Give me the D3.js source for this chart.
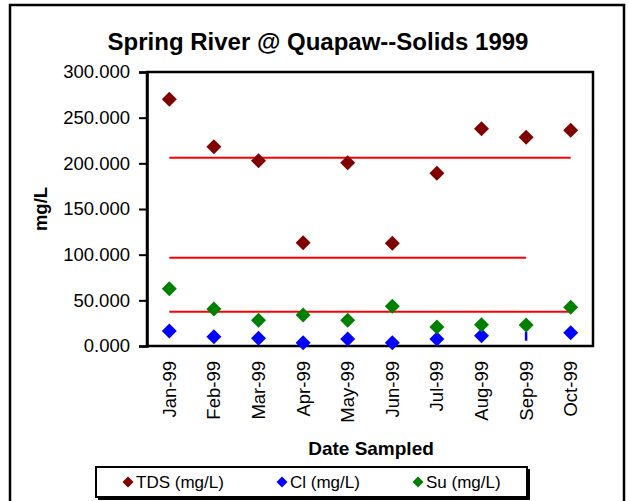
<!DOCTYPE html>
<html><head><meta charset="utf-8">
<script src="https://cdn.jsdelivr.net/npm/d3@7"></script>
<style>body{margin:0;background:#fff}svg{display:block}text{font-family:"Liberation Sans",Arial,sans-serif}</style>
</head><body><svg id="c" width="629" height="501"></svg>
<script>
const months = ["Jan-99","Feb-99","Mar-99","Apr-99","May-99","Jun-99","Jul-99","Aug-99","Sep-99","Oct-99"];
const tds = [270.1, 218.2, 202.9, 113.1, 200.7, 112.4, 189.1, 237.9, 228.5, 236.2];
const cl  = [16.4, 10.2, 8.4, 3.6, 7.7, 3.6, 7.7, 11.3, null, 14.6];
const su  = [62.8, 40.5, 28.1, 33.9, 28.1, 43.5, 20.8, 23.4, 23.0, 42.3];
const clStub = [{month:"Sep-99", low:5.8, high:15.7}];
const refValues = [206.2, 96.7, 37.6];
const refFrom = ["Jan-99","Jan-99","Jan-99"];
const refTo = ["Oct-99","Sep-99","Oct-99"];
const yTicks = [0,50,100,150,200,250,300];
const seriesNames = ["TDS (mg/L)","Cl (mg/L)","Su (mg/L)"];
const seriesColors = ["#800000","#0000ff","#008000"];

const svg = d3.select("#c");
const L=147, R=593, T=72, B=346;
const x = d3.scaleBand().domain(months).range([L,R]);
const y = d3.scaleLinear().domain([0,300]).range([B,T]);
const cx = m => x(m)+x.bandwidth()/2;

// outer border
svg.append("rect").attr("x",10).attr("y",5).attr("width",614).attr("height",510)
  .attr("fill","none").attr("stroke","#000").attr("stroke-width",2.5);

// title
svg.append("text").attr("x",318).attr("y",50).attr("text-anchor","middle")
  .attr("font-size",24).attr("font-weight","bold").text("Spring River @ Quapaw--Solids 1999");

// plot border
svg.append("rect").attr("x",L).attr("y",T).attr("width",R-L).attr("height",B-T)
  .attr("fill","none").attr("stroke","#000").attr("stroke-width",2.5);

// y axis
const ya = svg.append("g").attr("transform",`translate(${L},0)`)
  .call(d3.axisLeft(y).tickValues(yTicks).tickFormat(d3.format(".3f")).tickSize(8).tickPadding(9));
ya.select(".domain").attr("stroke","#000").attr("stroke-width",2.5);
ya.selectAll(".tick line").attr("stroke","#000").attr("stroke-width",2);
ya.selectAll(".tick text").attr("font-size",18.5).attr("fill","#000").attr("font-family","Liberation Sans, Arial, sans-serif");

// x axis labels
const xa = svg.append("g").attr("transform",`translate(0,${B})`)
  .call(d3.axisBottom(x).tickSize(0).tickPadding(0));
xa.select(".domain").remove();
xa.selectAll(".tick text").attr("font-size",18.5).attr("fill","#000")
  .attr("font-family","Liberation Sans, Arial, sans-serif")
  .attr("text-anchor","end").attr("transform","rotate(-90)")
  .attr("x",-15).attr("y",0).attr("dy","0.35em");

// axis titles
svg.append("text").attr("transform","translate(47,209) rotate(-90)").attr("text-anchor","middle")
  .attr("font-size",18.5).attr("font-weight","bold").text("mg/L");
svg.append("text").attr("x",371).attr("y",455).attr("text-anchor","middle")
  .attr("font-size",19).attr("font-weight","bold").text("Date Sampled");

// reference lines
svg.append("g").selectAll("line").data(refValues).join("line")
  .attr("x1",(d,i)=>cx(refFrom[i])).attr("x2",(d,i)=>cx(refTo[i]))
  .attr("y1",d=>y(d)).attr("y2",d=>y(d))
  .attr("stroke","#ff0000").attr("stroke-width",2);

const diamond = s => `M0,${-s}L${s},0L0,${s}L${-s},0Z`;
function drawSeries(vals,color){
  svg.append("g").selectAll("path").data(vals.map((v,i)=>({m:months[i],v})).filter(d=>d.v!=null))
    .join("path").attr("d",diamond(7.5)).attr("fill",color)
    .attr("transform",d=>`translate(${cx(d.m)},${y(d.v)})`);
}
// Cl stub
svg.append("g").selectAll("line").data(clStub).join("line")
  .attr("x1",d=>cx(d.month)).attr("x2",d=>cx(d.month))
  .attr("y1",d=>y(d.low)).attr("y2",d=>y(d.high))
  .attr("stroke",seriesColors[1]).attr("stroke-width",2.5);
drawSeries(tds,seriesColors[0]);
drawSeries(cl,seriesColors[1]);
drawSeries(su,seriesColors[2]);

// legend
svg.append("rect").attr("x",98).attr("y",469).attr("width",432).attr("height",31).attr("fill","#000");
svg.append("rect").attr("x",96).attr("y",467).attr("width",431).attr("height",30)
  .attr("fill","#fff").attr("stroke","#000").attr("stroke-width",2);
const lx = [128,282,418];
const lg = svg.append("g").selectAll("g").data(seriesNames).join("g")
  .attr("transform",(d,i)=>`translate(${lx[i]},482)`);
lg.append("path").attr("d",diamond(5.5)).attr("fill",(d,i)=>seriesColors[i]);
lg.append("text").attr("x",8).attr("y",6).attr("font-size",17).text(d=>d);
</script></body></html>
